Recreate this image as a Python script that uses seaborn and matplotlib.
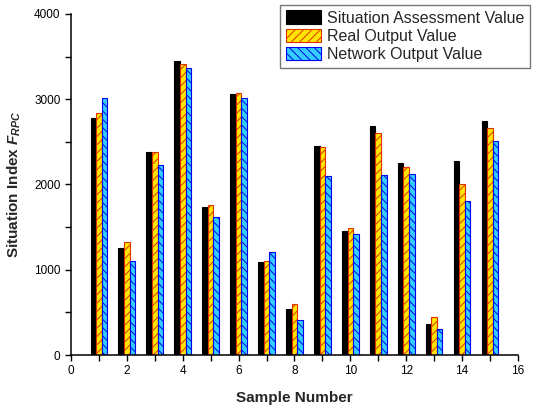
import matplotlib
matplotlib.use("Agg")
import matplotlib.pyplot as plt
import seaborn as sns
import pandas as pd
from matplotlib.ticker import MultipleLocator

samples = list(range(1, 16))
assessment = [2780, 1250, 2375, 3445, 1735, 3065, 1095, 540, 2455, 1455, 2685, 2250, 360, 2280, 2740]
real_output = [2835, 1320, 2375, 3410, 1755, 3075, 1100, 600, 2445, 1490, 2605, 2205, 445, 2005, 2665]
network_output = [3010, 1100, 2225, 3360, 1615, 3010, 1205, 415, 2100, 1415, 2110, 2120, 300, 1810, 2510]
series_names = ["Situation Assessment Value", "Real Output Value", "Network Output Value"]

df = pd.DataFrame({
    "Sample": samples * 3,
    "Value": assessment + real_output + network_output,
    "Series": [series_names[0]] * 15 + [series_names[1]] * 15 + [series_names[2]] * 15,
})

sns.set_style("ticks")
plt.rcParams["font.family"] = ["Liberation Sans", "DejaVu Sans"]
plt.rcParams["hatch.linewidth"] = 0.7
plt.rcParams["mathtext.fontset"] = "custom"
plt.rcParams["mathtext.it"] = "Liberation Sans:italic:bold"
plt.rcParams["mathtext.rm"] = "Liberation Sans:bold"
plt.rcParams["mathtext.bf"] = "Liberation Sans:bold"

fig = plt.figure(figsize=(5.35, 4.09), dpi=100)
ax = fig.add_axes([0.1327, 0.132, 0.8353, 0.834])

fills = ["#000000", "#FFE600", "#33CCFF"]
edges = ["#000000", "#E03000", "#0000EE"]
hatches = ["", "////", "\\\\\\\\"]

sns.barplot(data=df, x="Sample", y="Value", hue="Series", hue_order=series_names,
            palette=fills, native_scale=True, width=0.6, dodge=True,
            errorbar=None, ax=ax, legend=False, saturation=1)

for cont, ec, h in zip(ax.containers, edges, hatches):
    for p in cont.patches:
        p.set_edgecolor(ec)
        p.set_hatch(h)
        p.set_linewidth(0.8)

ax.set_xlim(0, 16)
ax.set_ylim(0, 4000)
ax.xaxis.set_major_locator(MultipleLocator(2))
ax.xaxis.set_minor_locator(MultipleLocator(1))
ax.yaxis.set_major_locator(MultipleLocator(1000))
ax.yaxis.set_minor_locator(MultipleLocator(500))
ax.tick_params(which="both", direction="out", length=4, width=1, labelsize=8.5, colors="black")
sns.despine(ax=ax)
for s in ["left", "bottom"]:
    ax.spines[s].set_linewidth(1.1)
    ax.spines[s].set_color("black")

ax.set_xlabel("Sample Number", fontsize=11, fontweight="bold", labelpad=10)
ax.set_ylabel(r"Situation Index $F_{RPC}$", fontsize=11, fontweight="bold", labelpad=8)

leg = ax.legend(handles=list(ax.containers), labels=series_names, loc="upper right",
                bbox_to_anchor=(0.991, 0.988), bbox_transform=fig.transFigure,
                fontsize=11.5, frameon=True, fancybox=False, edgecolor="#555555",
                handlelength=2.2, handleheight=0.9, handletextpad=0.4,
                labelspacing=0.2, borderpad=0.35, borderaxespad=0)
leg.get_frame().set_linewidth(1.0)

fig.savefig("out.png", dpi=100)
